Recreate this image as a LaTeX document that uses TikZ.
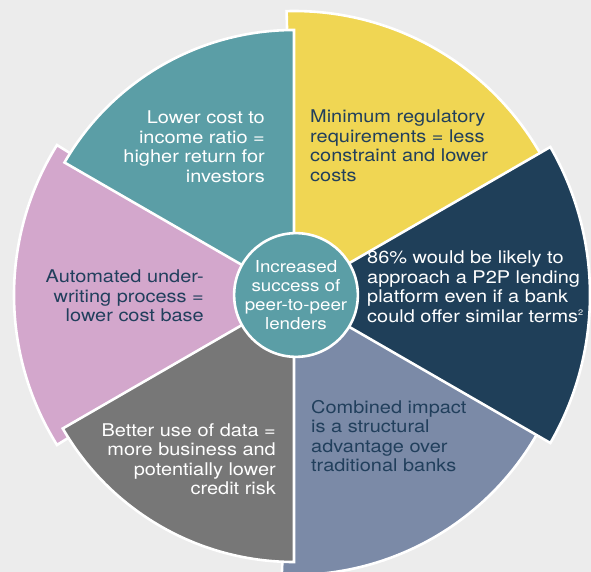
\documentclass[tikz,border=0pt]{standalone}
\usepackage{fontspec}
\setmainfont{TeX Gyre Heros}[FakeStretch=1.14]
\usetikzlibrary{positioning}
\definecolor{paper}{HTML}{ECECEC}
\definecolor{cYellow}{HTML}{F0D653}
\definecolor{cTeal}{HTML}{5B9EA6}
\definecolor{cPink}{HTML}{D3A7CC}
\definecolor{cGrey}{HTML}{777777}
\definecolor{cSlate}{HTML}{7B8AA7}
\definecolor{cNavy}{HTML}{1F3F59}
\definecolor{ink}{HTML}{213F5C}
% #1 colour, #2 apex, #3 start angle, #4 end angle, #5 radius
\newcommand*{\drawwedge}[5]{%
  \filldraw[wedge, fill=#1] #2 -- ++(#3:#5) arc[start angle=#3, end angle=#4, radius=#5] -- cycle;}
\newcommand*{\notemark}[1]{\raisebox{0.75ex}{\fontsize{8}{8}\selectfont #1}}

\begin{document}
\begin{tikzpicture}[x=1pt, y=1pt,
    wedge/.style={draw=white, line width=2.6pt, line join=miter},
    lbl/.style={inner sep=0pt, font=\fontsize{17.5}{19.5}\selectfont},
    ]
  \fill[paper] (-294,-277) rectangle (297,295);
  \useasboundingbox (-294,-277) rectangle (297,295);

  % wedges lying underneath
  \drawwedge{cYellow}{(0,0)}{25}{91.5}{284}
  \drawwedge{cPink}{(3,0)}{148}{212}{283}
  \drawwedge{cSlate}{(0,0)}{267.5}{332}{280}
  % wedges on top
  \drawwedge{cTeal}{(0,0)}{90}{150}{265}
  \drawwedge{cNavy}{(0,0)}{-30}{30}{296}
  \drawwedge{cGrey}{(0,0)}{210}{270}{267}

  % texts of the wedges (anchored on the last line)
  \node[lbl, text=white, align=right, anchor=base east] (cost) at (-29,112.5)
    {Lower cost to\\income ratio =\\higher return for\\investors};
  \node[lbl, text=ink, align=left, anchor=base west] (rules) at (16,113.5)
    {Minimum regulatory\\requirements = less\\constraint and lower\\costs};
  \node[lbl, text=white, align=left, anchor=base west] (survey) at (73,-27.5)
    {86\% would be likely to\\approach a P2P lending\\platform even if a bank\\could offer similar terms\notemark{2}};
  \node[lbl, text=ink, align=left, anchor=base west] (impact) at (17,-176.5)
    {Combined impact\\is a structural\\advantage over\\traditional banks};
  \node[lbl, text=white, align=right, anchor=base east] (data) at (-18,-199.5)
    {Better use of data =\\more business and\\potentially lower\\credit risk};
  \node[lbl, text=ink, align=right, anchor=base east] (auto) at (-90,-27)
    {Automated under-\\writing process =\\lower cost base};

  % hub
  \node[circle, fill=cTeal, draw=white, line width=2.6pt, minimum size=121pt, inner sep=0pt,
        font=\fontsize{16.5}{19}\selectfont, text=white, align=center] (hub) at (2,0)
    {Increased\\success of\\peer-to-peer\\lenders};
\end{tikzpicture}
\end{document}
